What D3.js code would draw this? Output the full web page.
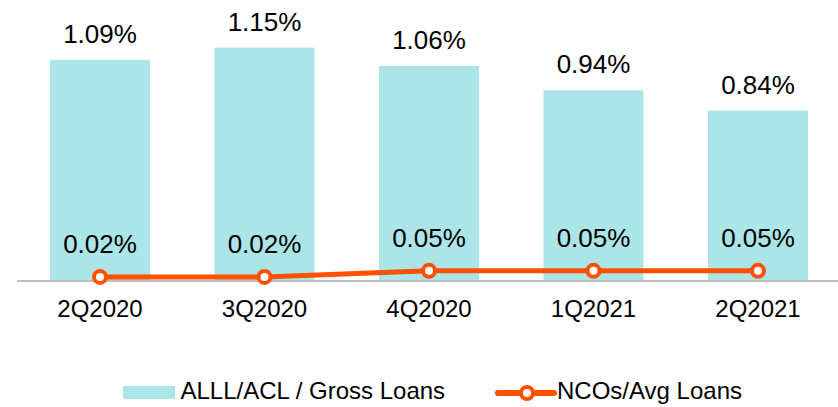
<!DOCTYPE html>
<html>
<head>
<meta charset="utf-8">
<script src="https://cdn.jsdelivr.net/npm/d3@7"></script>
<style>
  html, body { margin: 0; padding: 0; background: #fff; }
  svg { display: block; font-family: "Liberation Sans", Arial, sans-serif; }
</style>
</head>
<body>
<svg id="chart" width="838" height="407"></svg>
<script>
// Quarterly credit quality ratios (%)
const quarters = ["2Q2020", "3Q2020", "4Q2020", "1Q2021", "2Q2021"];
const allowanceRatio = [1.09, 1.15, 1.06, 0.94, 0.84];   // ALLL/ACL / Gross Loans
const ncoRatio = [0.02, 0.02, 0.05, 0.05, 0.05];          // NCOs/Avg Loans
const seriesNames = ["ALLL/ACL / Gross Loans", "NCOs/Avg Loans"];

const barColor = "#ace5e8";
const lineColor = "#ff5000";
const axisColor = "#bfbfbf";
const fmt = v => v.toFixed(2) + "%";

const svg = d3.select("#chart");

const x = d3.scaleBand()
  .domain(quarters)
  .range([17.75, 840.25])
  .paddingInner(0.392)
  .paddingOuter(0.196);

const y = d3.scaleLinear()
  .domain([0, 1.38])
  .range([281, 1]);

// Bars
svg.append("g").selectAll("rect")
  .data(allowanceRatio)
  .join("rect")
  .attr("x", (d, i) => x(quarters[i]))
  .attr("y", d => y(d))
  .attr("width", x.bandwidth())
  .attr("height", d => y(0) - y(d))
  .attr("fill", barColor);

// Bar value labels
svg.append("g").selectAll("text")
  .data(allowanceRatio)
  .join("text")
  .attr("x", (d, i) => x(quarters[i]) + x.bandwidth() / 2)
  .attr("y", d => y(d) - 17)
  .attr("text-anchor", "middle")
  .attr("font-size", 26)
  .attr("fill", "#000")
  .text(fmt);

// Category axis
const axis = svg.append("g")
  .attr("transform", `translate(0,${y(0)})`)
  .call(d3.axisBottom(x).tickSize(0).tickPadding(0));
axis.select(".domain").remove();
axis.append("line")
  .attr("x1", 17).attr("x2", 838)
  .attr("y1", 0).attr("y2", 0)
  .attr("stroke", axisColor)
  .attr("stroke-width", 2);
axis.selectAll(".tick text")
  .attr("dy", null)
  .attr("y", 35.5)
  .attr("font-size", 24)
  .attr("font-family", "Liberation Sans, Arial, sans-serif")
  .attr("fill", "#000");

// NCO line
const cx = (d, i) => x(quarters[i]) + x.bandwidth() / 2;
const line = d3.line().x(cx).y(d => y(d));
svg.append("path")
  .datum(ncoRatio)
  .attr("d", line)
  .attr("fill", "none")
  .attr("stroke", lineColor)
  .attr("stroke-width", 5)
  .attr("stroke-linejoin", "round");

svg.append("g").selectAll("circle")
  .data(ncoRatio)
  .join("circle")
  .attr("cx", cx)
  .attr("cy", d => y(d))
  .attr("r", 6)
  .attr("fill", "#fff")
  .attr("stroke", lineColor)
  .attr("stroke-width", 4);

svg.append("g").selectAll("text")
  .data(ncoRatio)
  .join("text")
  .attr("x", cx)
  .attr("y", d => y(d) - 24)
  .attr("text-anchor", "middle")
  .attr("font-size", 26)
  .attr("fill", "#000")
  .text(fmt);

// Legend
const legend = svg.append("g");
legend.append("rect")
  .attr("x", 123).attr("y", 386)
  .attr("width", 52).attr("height", 13)
  .attr("fill", barColor);
legend.append("text")
  .attr("x", 180.5).attr("y", 399)
  .attr("font-size", 24)
  .attr("fill", "#000")
  .text(seriesNames[0]);

legend.append("line")
  .attr("x1", 498).attr("x2", 554)
  .attr("y1", 393).attr("y2", 393)
  .attr("stroke", lineColor)
  .attr("stroke-width", 6)
  .attr("stroke-linecap", "round");
legend.append("circle")
  .attr("cx", 527).attr("cy", 393)
  .attr("r", 6)
  .attr("fill", "#fff")
  .attr("stroke", lineColor)
  .attr("stroke-width", 4);
legend.append("text")
  .attr("x", 557).attr("y", 399)
  .attr("font-size", 24)
  .attr("fill", "#000")
  .text(seriesNames[1]);
</script>
</body>
</html>
